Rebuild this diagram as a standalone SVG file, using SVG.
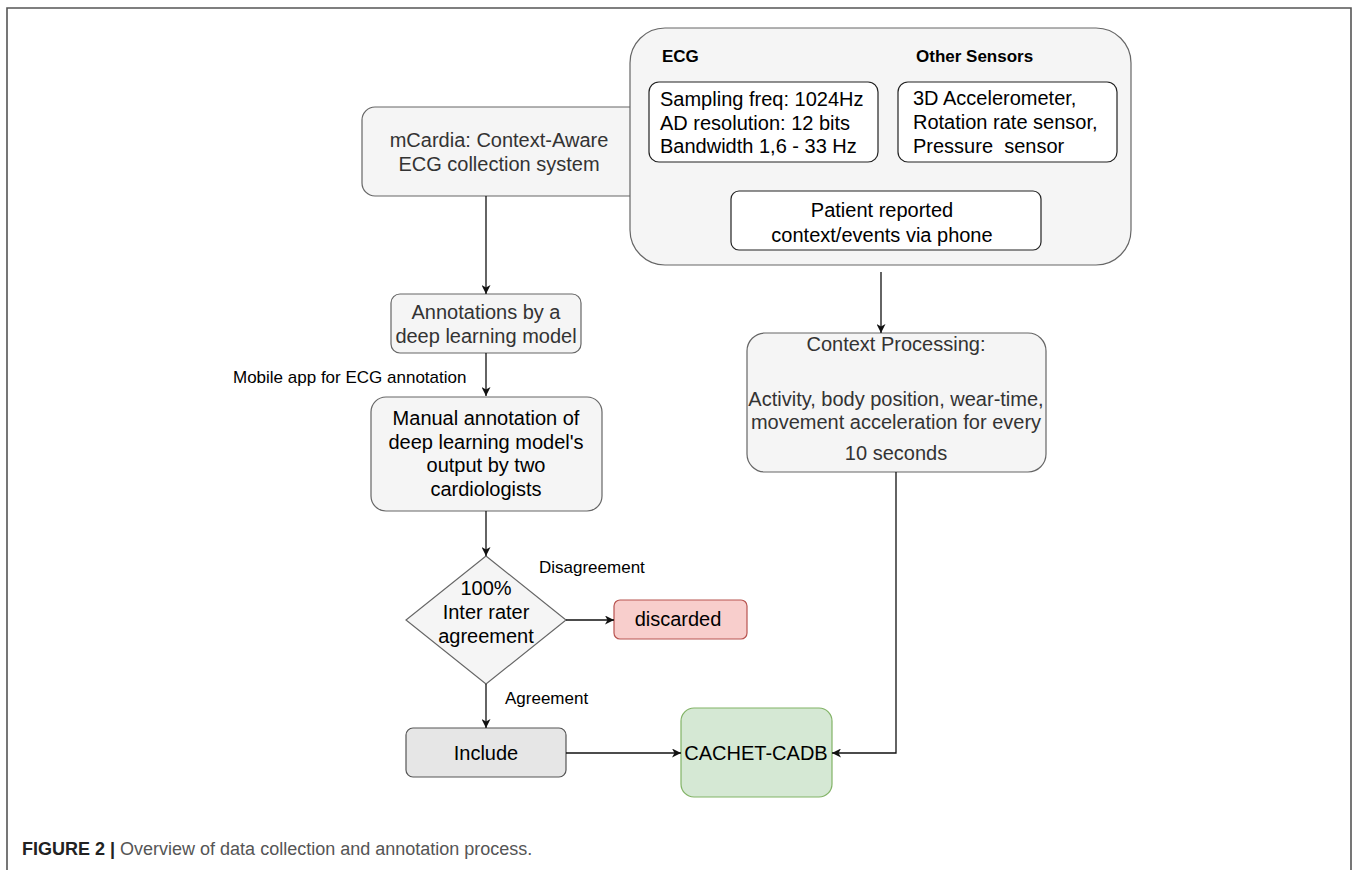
<svg xmlns="http://www.w3.org/2000/svg" width="1357" height="870" viewBox="0 0 1357 870">
<defs>
<style>
text{font-family:"Liberation Sans",Arial,sans-serif;}
.t20{font-size:20px;}
.lbl{font-size:17px;fill:#000;}
.hd{font-size:17px;font-weight:bold;fill:#000;}
.c{text-anchor:middle;}
.gbox{fill:#f5f5f5;stroke:#666;stroke-width:1.2;}
.wbox{fill:#fff;stroke:#222;stroke-width:1.2;}
.dk{fill:#333;}
.bk{fill:#000;}
.conn{fill:none;stroke:#111;stroke-width:1.3;}
</style>
<marker id="arr" markerUnits="userSpaceOnUse" markerWidth="10" markerHeight="9" refX="9" refY="4.5" orient="auto">
<path d="M0,0 L9,4.5 L0,9 L2.5,4.5 Z" fill="#111"/>
</marker>
</defs>
<rect x="0" y="0" width="1357" height="870" fill="#fff"/>
<path d="M7 870 V8 H1351 V870" fill="none" stroke="#555" stroke-width="1.6"/>

<g id="mcardia">
<rect class="gbox" x="362" y="107" width="290" height="89" rx="13"/>
<text class="t20 dk c" x="499" y="147">mCardia: Context-Aware</text>
<text class="t20 dk c" x="499" y="171">ECG collection system</text>
</g>

<g id="sensors">
<rect class="gbox" x="630" y="28" width="501" height="237" rx="35"/>
<text class="hd" x="662" y="62">ECG</text>
<text class="hd" x="916" y="62">Other Sensors</text>
</g>

<g id="ecg-specs">
<rect class="wbox" x="649" y="82" width="229" height="80" rx="10"/>
<text class="t20 bk" x="660" y="106">Sampling freq: 1024Hz</text>
<text class="t20 bk" x="660" y="130">AD resolution: 12 bits</text>
<text class="t20 bk" x="660" y="153">Bandwidth 1,6 - 33 Hz</text>
</g>

<g id="other-sensors">
<rect class="wbox" x="898" y="82" width="219" height="80" rx="10"/>
<text class="t20 bk" x="913" y="105">3D Accelerometer,</text>
<text class="t20 bk" x="913" y="129">Rotation rate sensor,</text>
<text class="t20 bk" x="913" y="153" xml:space="preserve">Pressure  sensor</text>
</g>

<g id="patient">
<rect class="wbox" x="731" y="191" width="310" height="59" rx="8"/>
<text class="t20 bk c" x="882" y="217">Patient reported</text>
<text class="t20 bk c" x="882" y="242">context/events via phone</text>
</g>

<g id="annotations">
<rect class="gbox" x="391" y="294" width="190" height="59" rx="9"/>
<text class="t20 dk c" x="486" y="319">Annotations by a</text>
<text class="t20 dk c" x="486" y="343">deep learning model</text>
</g>

<g id="manual">
<rect class="gbox" x="371" y="397" width="231" height="114" rx="15"/>
<text class="t20 bk c" x="486" y="425">Manual annotation of</text>
<text class="t20 bk c" x="486" y="449">deep learning model's</text>
<text class="t20 bk c" x="486" y="472">output by two</text>
<text class="t20 bk c" x="486" y="496">cardiologists</text>
</g>

<g id="decision">
<path class="gbox" d="M486 556 L566 620 L486 684 L406 620 Z"/>
<text class="t20 bk c" x="486" y="595">100%</text>
<text class="t20 bk c" x="486" y="619">Inter rater</text>
<text class="t20 bk c" x="486" y="643">agreement</text>
</g>

<g id="discarded">
<rect x="614" y="600" width="133" height="39" rx="6" fill="#f8cecc" stroke="#b85450" stroke-width="1.2"/>
<text class="t20 bk c" x="678" y="626">discarded</text>
</g>

<g id="include">
<rect x="406" y="728" width="160" height="49" rx="7" fill="#e6e6e6" stroke="#555" stroke-width="1.2"/>
<text class="t20 bk c" x="486" y="760">Include</text>
</g>

<g id="cachet">
<rect x="681" y="708" width="151" height="89" rx="13" fill="#d5e8d4" stroke="#82b366" stroke-width="1.2"/>
<text class="t20 bk c" x="756" y="760">CACHET-CADB</text>
</g>

<g id="context">
<rect class="gbox" x="747" y="333" width="299" height="139" rx="18"/>
<text class="t20 dk c" x="896" y="351">Context Processing:</text>
<text class="t20 dk c" x="896" y="406">Activity, body position, wear-time,</text>
<text class="t20 dk c" x="896" y="429">movement acceleration for every</text>
<text class="t20 dk c" x="896" y="460">10 seconds</text>
</g>

<g id="connectors">
<path class="conn" d="M486 196 V294" marker-end="url(#arr)"/>
<path class="conn" d="M486 353 V396" marker-end="url(#arr)"/>
<path class="conn" d="M486 511 V556" marker-end="url(#arr)"/>
<path class="conn" d="M566 620 H614" marker-end="url(#arr)"/>
<path class="conn" d="M486 684 V728" marker-end="url(#arr)"/>
<path class="conn" d="M566 753 H681" marker-end="url(#arr)"/>
<path class="conn" d="M881 272 V333" marker-end="url(#arr)"/>
<path class="conn" d="M896 472 V753 H832" marker-end="url(#arr)"/>
<text class="lbl" x="233" y="383">Mobile app for ECG annotation</text>
<text class="lbl" x="539" y="573">Disagreement</text>
<text class="lbl" x="505" y="704">Agreement</text>
</g>

<g id="caption">
<text x="22" y="855" font-size="18"><tspan font-weight="bold" fill="#222">FIGURE 2 |</tspan><tspan fill="#555"> Overview of data collection and annotation process.</tspan></text>
</g>
</svg>
